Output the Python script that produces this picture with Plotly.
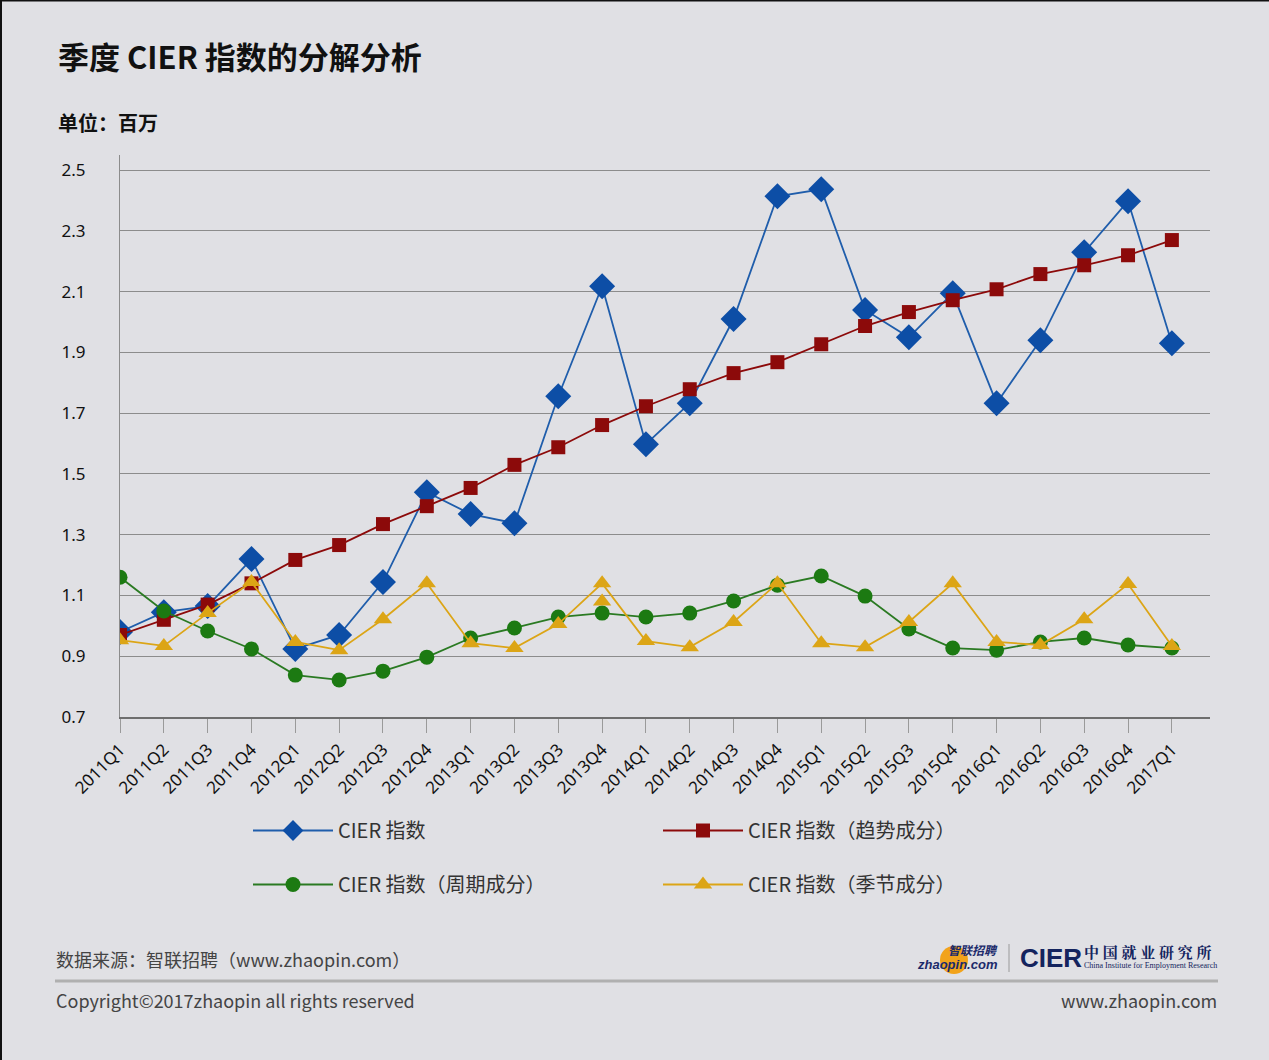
import plotly.graph_objects as go

#%% data

quarters = ["2011Q1", "2011Q2", "2011Q3", "2011Q4",
            "2012Q1", "2012Q2", "2012Q3", "2012Q4",
            "2013Q1", "2013Q2", "2013Q3", "2013Q4",
            "2014Q1", "2014Q2", "2014Q3", "2014Q4",
            "2015Q1", "2015Q2", "2015Q3", "2015Q4",
            "2016Q1", "2016Q2", "2016Q3", "2016Q4",
            "2017Q1"]

cier_index = [0.98, 1.045, 1.065, 1.22, 0.924, 0.97, 1.144, 1.44, 1.368, 1.338,
              1.756, 2.118, 1.598, 1.733, 2.01, 2.414, 2.437, 2.04, 1.95, 2.095,
              1.733, 1.94, 2.23, 2.398, 1.93]

trend = [0.97, 1.02, 1.07, 1.14, 1.217, 1.266, 1.335, 1.394, 1.454, 1.53,
         1.588, 1.661, 1.723, 1.779, 1.832, 1.868, 1.927, 1.987, 2.033, 2.072,
         2.108, 2.158, 2.187, 2.22, 2.27]

cycle = [1.16, 1.049, 0.983, 0.924, 0.838, 0.822, 0.851, 0.897, 0.96, 0.993,
         1.029, 1.042, 1.029, 1.042, 1.082, 1.134, 1.164, 1.098, 0.99, 0.927,
         0.92, 0.947, 0.96, 0.937, 0.927]

season = [0.953, 0.934, 1.042, 1.144, 0.947, 0.92, 1.022, 1.14, 0.943, 0.927,
          1.006, 1.14, 0.95, 0.93, 1.013, 1.14, 0.943, 0.93, 1.013, 1.14,
          0.947, 0.937, 1.022, 1.138, 0.934]

# a second seasonal marker is drawn at 2013Q4 in the original
season_extra_x = ["2013Q4"]
season_extra_y = [1.08]

y_ticks = [0.7, 0.9, 1.1, 1.3, 1.5, 1.7, 1.9, 2.1, 2.3, 2.5]

#%% style

bg = "#e0e0e4"
font_cn = "Noto Sans CJK SC"
font_tick = "Noto Sans, Noto Sans CJK SC"

c_blue = "#0d4ea6"
c_red = "#8c0a0a"
c_green = "#1c7a12"
c_yellow = "#dca516"

fig = go.Figure()

fig.add_trace(go.Scatter(
    x=quarters, y=cier_index, name="CIER 指数", mode="lines+markers",
    line=dict(color="#1f5dab", width=1.8),
    marker=dict(symbol="diamond", size=20, color=c_blue),
    legend="legend"))

fig.add_trace(go.Scatter(
    x=quarters, y=trend, name="CIER 指数（趋势成分）", mode="lines+markers",
    line=dict(color=c_red, width=1.8),
    marker=dict(symbol="square", size=14, color=c_red),
    legend="legend"))

fig.add_trace(go.Scatter(
    x=quarters, y=cycle, name="CIER 指数（周期成分）", mode="lines+markers",
    line=dict(color="#2a7a22", width=1.8),
    marker=dict(symbol="circle", size=15, color=c_green),
    legend="legend2"))

fig.add_trace(go.Scatter(
    x=quarters, y=season, name="CIER 指数（季节成分）", mode="lines+markers",
    line=dict(color=c_yellow, width=1.8),
    marker=dict(symbol="triangle-up", size=16, color=c_yellow),
    legend="legend2"))

fig.add_trace(go.Scatter(
    x=season_extra_x, y=season_extra_y, mode="markers", showlegend=False,
    marker=dict(symbol="triangle-up", size=16, color=c_yellow)))

# plot area is 120..1210 px wide, 155..717 px high
def px_x(p):
    return (p - 120) / 1090.0

def px_y(p):
    return (717 - p) / 562.0

fig.update_xaxes(
    type="category", range=[0, 24.87],
    showgrid=False, showline=True, linecolor="#6e6e6e", linewidth=2,
    ticks="outside", ticklen=14, tickcolor="#9a9a9a", tickwidth=1,
    tickangle=-45, tickfont=dict(family=font_tick, size=17, color="#111"),
    zeroline=False)

fig.update_yaxes(
    range=[0.7, 2.55], tickvals=y_ticks, ticktext=[str(v) for v in y_ticks],
    showgrid=True, gridcolor="#8c8c8c", gridwidth=1,
    showline=True, linecolor="#8c8c8c", linewidth=1,
    ticks="", ticklabelstandoff=30,
    tickfont=dict(family=font_tick, size=17, color="#111"),
    zeroline=False)

legend_font = dict(family=font_cn, size=20, color="#333")

fig.update_layout(
    width=1269, height=1060,
    margin=dict(l=120, r=59, t=155, b=343),
    paper_bgcolor=bg, plot_bgcolor=bg,
    legend=dict(orientation="h", x=px_x(248), y=px_y(811), xanchor="left", yanchor="top",
                entrywidth=315, entrywidthmode="pixels", itemwidth=80,
                font=legend_font, bgcolor="rgba(0,0,0,0)"),
    legend2=dict(orientation="h", x=px_x(248), y=px_y(865), xanchor="left", yanchor="top",
                 entrywidth=315, entrywidthmode="pixels", itemwidth=80,
                 font=legend_font, bgcolor="rgba(0,0,0,0)"),
    hovermode=False,
)

#%% titles and footer

ann = [
    dict(text="<b>季度 CIER 指数的分解分析</b>", x=px_x(56), y=px_y(56),
         font=dict(family=font_cn, size=31, color="#111")),
    dict(text="<b>单位：百万</b>", x=px_x(56), y=px_y(123),
         font=dict(family=font_cn, size=20, color="#111")),
    dict(text="数据来源：智联招聘（www.zhaopin.com）", x=px_x(54), y=px_y(959),
         font=dict(family=font_cn, size=18, color="#444")),
    dict(text="Copyright©2017zhaopin all rights reserved", x=px_x(54), y=px_y(1000),
         font=dict(family=font_cn, size=18, color="#444")),
    dict(text="www.zhaopin.com", x=px_x(1219), y=px_y(1000), xanchor="right",
         font=dict(family=font_cn, size=18, color="#444")),
    # logos as text
    dict(text="<b><i>智联招聘</i></b>", x=px_x(1000), y=px_y(949), xanchor="right",
         font=dict(family=font_cn, size=12, color="#1b2a6b")),
    dict(text="<b><i>zhaopin.com</i></b>", x=px_x(1000), y=px_y(964), xanchor="right",
         font=dict(family="Liberation Sans", size=13, color="#1b2a6b")),
    dict(text="<b>CIER</b>", x=px_x(1018), y=px_y(958),
         font=dict(family="Liberation Sans Narrow, Liberation Sans", size=26, color="#14245e")),
    dict(text="<b>中 国 就 业 研 究 所</b>", x=px_x(1082), y=px_y(951),
         font=dict(family="Noto Serif CJK SC, Noto Sans CJK SC", size=15, color="#14245e")),
    dict(text="China Institute for Employment Research", x=px_x(1082), y=px_y(965),
         font=dict(family="Liberation Serif", size=8, color="#14245e")),
]
for a in ann:
    a.setdefault("xanchor", "left")
    a.update(xref="paper", yref="paper", yanchor="middle", showarrow=False)
    fig.add_annotation(**a)

shapes = [
    # orange ball of the zhaopin logo
    dict(type="circle", x0=px_x(940), x1=px_x(968), y0=px_y(946), y1=px_y(974),
         fillcolor="#f2a31b", line=dict(width=0), layer="below"),
    # logo separator
    dict(type="line", x0=px_x(1009), x1=px_x(1009), y0=px_y(944), y1=px_y(972),
         line=dict(color="#9a9a9a", width=1)),
    # footer rule
    dict(type="line", x0=px_x(55), x1=px_x(1218), y0=px_y(981), y1=px_y(981),
         line=dict(color="#b0b0b0", width=3)),
    # dark border at the top and left edge of the image
    dict(type="line", x0=px_x(0), x1=px_x(1269), y0=px_y(0.5), y1=px_y(0.5),
         line=dict(color="#111", width=2)),
    dict(type="line", x0=px_x(1), x1=px_x(1), y0=px_y(0), y1=px_y(1060),
         line=dict(color="#111", width=2)),
]
for s in shapes:
    s.update(xref="paper", yref="paper")
    fig.add_shape(**s)

# page margin off so the figure sits at the window corner
fig.write_html("out.html", config={"displayModeBar": False},
               post_script="document.body.style.margin='0';")
